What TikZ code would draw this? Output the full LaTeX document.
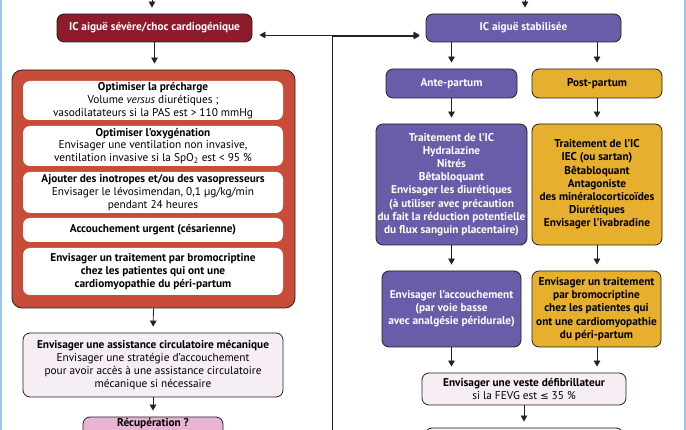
\documentclass[tikz,border=0pt]{standalone}
\usepackage{fontspec}
\setmainfont{PT Sans}
\newfontfamily\dejavu{DejaVu Sans}
\usetikzlibrary{arrows.meta}
\definecolor{darkred}{HTML}{8E1B2C}
\definecolor{brick}{HTML}{C84C38}
\definecolor{violet}{HTML}{6A5CA8}
\definecolor{gold}{HTML}{E6AF2E}
\definecolor{palepink}{HTML}{F6EDF5}
\definecolor{rosepink}{HTML}{E9B4D4}
\definecolor{edgeblue}{HTML}{9DC3E6}
\definecolor{ink}{HTML}{222222}
\begin{document}
\begin{tikzpicture}[x=1pt,y=-1pt,
  box/.style={draw=ink, line width=0.8pt, rounded corners=7pt, align=center, inner sep=0pt,
    font=\fontsize{11.3}{12.8}\selectfont},
  inbox/.style={box, draw=none, fill=white},
  tall/.style={font=\fontsize{11.3}{13.2}\selectfont\bfseries},
  conn/.style={draw=ink, line width=0.8pt, -{Triangle[length=6pt,width=6.5pt]}, shorten >=6pt},
  line/.style={draw=ink, line width=0.8pt}
]
\useasboundingbox (0,0) rectangle (686,430);
\clip (0,0) rectangle (686,430);
\fill[white] (0,0) rectangle (686,430);
\draw[edgeblue, line width=1.5pt] (1,0) -- (1,430);
\draw[edgeblue, line width=1.5pt] (685,0) -- (685,430);

% left column
\node[box, fill=darkred, text=white, minimum width=195pt, minimum height=28pt] (severe) at (154.5,28)
  {\bfseries IC aiguë sévère/choc cardiogénique};
\node[box, fill=brick, rounded corners=10pt, minimum width=283pt, minimum height=238pt] (cont) at (153.5,189) {};
\node[inbox, minimum width=260pt, minimum height=39pt] (b1) at (153,100.5)
  {{\bfseries Optimiser la précharge}\\Volume \emph{versus} diurétiques ;\\vasodilatateurs si la PAS est > 110 mmHg};
\node[inbox, minimum width=260pt, minimum height=40pt] (b2) at (153,146)
  {{\bfseries Optimiser l’oxygénation}\\Envisager une ventilation non invasive,\\ventilation invasive si la SpO\textsubscript{2} est < 95 \%};
\node[inbox, minimum width=260pt, minimum height=41pt] (b3) at (153,192.5)
  {{\bfseries Ajouter des inotropes et/ou des vasopresseurs}\\Envisager le lévosimendan, 0,1 µg/kg/min\\pendant 24 heures};
\node[inbox, minimum width=260pt, minimum height=24pt] (b4) at (153,230)
  {\bfseries Accouchement urgent (césarienne)};
\node[inbox, minimum width=260pt, minimum height=47pt, tall] (b5) at (153,271.5)
  {Envisager un traitement par bromocriptine\\chez les patientes qui ont une\\cardiomyopathie du péri-partum};
\node[box, fill=palepink, minimum width=260pt, minimum height=64pt] (assist) at (153,365)
  {{\bfseries Envisager une assistance circulatoire mécanique}\\Envisager une stratégie d’accouchement\\pour avoir accès à une assistance circulatoire\\mécanique si nécessaire};
\node[box, fill=rosepink, minimum width=140pt, minimum height=40pt] (recup) at (153,437) {};
\node[font=\fontsize{11.3}{12.8}\selectfont\bfseries, inner sep=0pt] (recuptxt) at (153,424) {Récupération ?};

% right column
\node[box, fill=violet, text=white, minimum width=195pt, minimum height=28pt] (stab) at (523.5,28)
  {\bfseries IC aiguë stabilisée};
\node[box, fill=violet, text=white, minimum width=131pt, minimum height=29pt] (ante) at (451.5,83.5)
  {\bfseries Ante-partum};
\node[box, fill=gold, minimum width=130pt, minimum height=29pt] (post) at (597,83.5)
  {\bfseries Post-partum};
\node[box, fill=violet, text=white, minimum width=151pt, minimum height=121pt, tall] (antetx) at (451.5,184.5)
  {Traitement de l’IC\\Hydralazine\\Nitrés\\Bêtabloquant\\Envisager les diurétiques\\(à utiliser avec précaution\\du fait la réduction potentielle\\du flux sanguin placentaire)};
\node[box, fill=gold, minimum width=130pt, minimum height=121pt, tall] (posttx) at (597,184.5)
  {Traitement de l’IC\\IEC (ou sartan)\\Bêtabloquant\\Antagoniste\\des minéralocorticoïdes\\Diurétiques\\Envisager l’ivabradine};
\node[box, fill=violet, text=white, minimum width=139pt, minimum height=76pt, tall] (accou) at (451.5,309)
  {Envisager l’accouchement\\(par voie basse\\avec analgésie péridurale)};
\node[box, fill=gold, minimum width=129pt, minimum height=76pt, tall] (bromo) at (596.5,309)
  {Envisager un traitement\\par bromocriptine\\chez les patientes qui\\ont une cardiomyopathie\\du péri-partum};
\node[box, fill=palepink, minimum width=204pt, minimum height=32pt] (veste) at (524,389)
  {{\bfseries Envisager une veste défibrillateur}\\si la FEVG est {\dejavu\fontsize{10}{12}\selectfont ≤} 35 \%};
\node[box, fill=palepink, minimum width=198pt, minimum height=40pt] (suite) at (524,448) {};

% free ends
\coordinate (inL) at (152,-10);
\coordinate (inR) at (525,-10);
\coordinate (upR) at (332,445);
\coordinate (corner) at (332,36);

% connectors
\draw[conn] (inL) -- (severe.north -| inL);
\draw[conn] (inR) -- (stab.north -| inR);
\draw[conn] (severe.south) -- (cont.north -| severe.south);
\draw[conn] (cont.south) -- (assist.north);
\draw[conn] (assist.south) -- (recup.north);
\draw[line, {Triangle[length=6pt,width=6.5pt]}-{Triangle[length=6pt,width=6.5pt]}, shorten <=7pt, shorten >=6pt]
  ([yshift=-7pt]severe.east) -- ([yshift=-7pt]stab.west);
\draw[conn] (upR) -- (corner) -- (corner -| stab.west);
\draw[conn] (stab.south -| ante) -- (ante.north);
\draw[conn] (stab.south -| post) -- (post.north);
\draw[conn] (ante.south) -- (antetx.north);
\draw[conn] (post.south) -- (posttx.north);
\draw[conn] (antetx.south) -- (accou.north);
\draw[conn] (posttx.south) -- (posttx.south |- bromo.north);
\draw[conn] (accou.south) -- (accou.south |- veste.north);
\draw[conn] (bromo.south -| posttx) -- (veste.north -| posttx);
\draw[conn] (veste.south) -- (suite.north);
\end{tikzpicture}
\end{document}
